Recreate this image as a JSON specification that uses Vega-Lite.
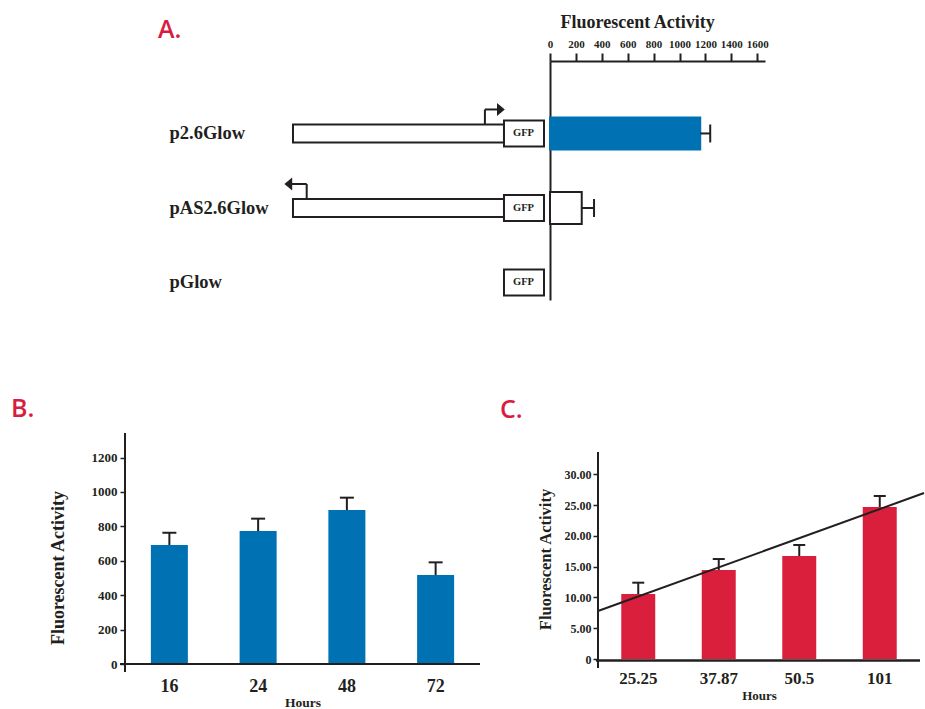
{
  "$schema": "https://vega.github.io/schema/vega-lite/v6.json",
  "background": "white",
  "autosize": {"type": "pad"},
  "padding": {"left": 11, "top": 13, "right": 0, "bottom": 0},
  "bounds": "flush",
  "spacing": 372,
  "config": {
    "view": {"stroke": null},
    "font": "Liberation Serif",
    "axis": {
      "domainColor": "#231f20", "tickColor": "#231f20", "labelColor": "#231f20", "titleColor": "#231f20",
      "labelFont": "Liberation Serif", "titleFont": "Liberation Serif",
      "labelFontWeight": "bold", "titleFontWeight": "bold",
      "grid": false, "domainWidth": 2, "tickWidth": 1.5
    },
    "title": {"font": "Open Sans", "fontWeight": 600, "fontSize": 25, "color": "#d91c3f", "anchor": "start", "frame": "group"}
  },
  "datasets": {
    "constructs": [
      {"construct": "p2.6Glow", "insert_start": 0, "insert_end": 2600, "gfp_start": 2600, "gfp_end": 3093, "promoter": 2365, "arrow_head": 2562, "direction": "forward"},
      {"construct": "pAS2.6Glow", "insert_start": 0, "insert_end": 2600, "gfp_start": 2600, "gfp_end": 3093, "promoter": 169, "arrow_head": -58, "direction": "reverse"},
      {"construct": "pGlow", "gfp_start": 2600, "gfp_end": 3093}
    ],
    "activity_a": [
      {"construct": "p2.6Glow", "activity": 1160, "upper": 1237},
      {"construct": "pAS2.6Glow", "activity": 245, "upper": 340}
    ],
    "time_course": [
      {"hours": 16, "activity": 692, "upper": 763},
      {"hours": 24, "activity": 773, "upper": 845},
      {"hours": 48, "activity": 895, "upper": 967},
      {"hours": 72, "activity": 517, "upper": 591}
    ],
    "dose": [
      {"hours": "25.25", "activity": 10.55, "upper": 12.39},
      {"hours": "37.87", "activity": 14.45, "upper": 16.23},
      {"hours": "50.5", "activity": 16.72, "upper": 18.51},
      {"hours": "101", "activity": 24.68, "upper": 26.46}
    ],
    "trend": [
      {"bar_index": -0.5, "activity": 7.79},
      {"bar_index": 3.55, "activity": 26.94}
    ]
  },
  "vconcat": [
    {
      "hconcat": [
        {
          "width": 425,
          "height": 239,
          "title": {"text": "A.", "dx": 33, "offset": 18},
          "data": {"name": "constructs"},
          "encoding": {
            "y": {
              "field": "construct", "type": "nominal", "sort": null,
              "scale": {"domain": ["p2.6Glow", "pAS2.6Glow", "pGlow"], "paddingInner": 0.5705, "paddingOuter": 0.389, "align": 0.974},
              "axis": {"domain": false, "ticks": false, "tickSize": 0, "labelAlign": "left", "labelBaseline": "middle", "labelPadding": -44, "labelFontSize": 18.5, "title": null}
            }
          },
          "layer": [
            {
              "mark": {"type": "bar", "fill": "white", "stroke": "#231f20", "strokeWidth": 2, "height": {"band": 0.5625}},
              "encoding": {
                "x": {"field": "insert_start", "type": "quantitative", "scale": {"domain": [-2070, 3167], "nice": false, "zero": false}, "axis": null},
                "x2": {"field": "insert_end"}
              }
            },
            {
              "mark": {"type": "bar", "fill": "white", "stroke": "#231f20", "strokeWidth": 2, "height": {"band": 0.8125}},
              "encoding": {
                "x": {"field": "gfp_start", "type": "quantitative"},
                "x2": {"field": "gfp_end"}
              }
            },
            {
              "mark": {"type": "text", "text": "GFP", "font": "Liberation Serif", "fontWeight": "bold", "fontSize": 10.5, "align": "left", "baseline": "middle", "dx": 9, "color": "#231f20"},
              "encoding": {"x": {"field": "gfp_start", "type": "quantitative"}}
            },
            {
              "mark": {"type": "rule", "strokeWidth": 2, "color": "#231f20"},
              "encoding": {
                "x": {"field": "promoter", "type": "quantitative"},
                "y": {"field": "construct", "type": "nominal", "bandPosition": 0.22},
                "y2": {"field": "construct", "bandPosition": -0.25}
              }
            },
            {
              "mark": {"type": "rule", "strokeWidth": 2, "color": "#231f20"},
              "encoding": {
                "x": {"field": "promoter", "type": "quantitative"},
                "x2": {"field": "arrow_head"},
                "y": {"field": "construct", "type": "nominal", "bandPosition": -0.25}
              }
            },
            {
              "mark": {"type": "point", "filled": true, "size": 169, "opacity": 1, "color": "#231f20"},
              "encoding": {
                "x": {"field": "arrow_head", "type": "quantitative"},
                "y": {"field": "construct", "type": "nominal", "bandPosition": -0.25},
                "shape": {"field": "direction", "type": "nominal", "scale": {"domain": ["forward", "reverse"], "range": ["M-0.6,-1L0.6,0L-0.6,1Z", "M0.6,-1L-0.6,0L0.6,1Z"]}, "legend": null}
              }
            }
          ]
        },
        {
          "width": 215,
          "height": 239,
          "data": {"name": "activity_a"},
          "encoding": {
            "y": {
              "field": "construct", "type": "nominal", "sort": null,
              "scale": {"domain": ["p2.6Glow", "pAS2.6Glow", "pGlow"], "paddingInner": 0.5705, "paddingOuter": 0.389, "align": 0.974},
              "axis": {"labels": false, "ticks": false, "title": null, "domain": true}
            }
          },
          "layer": [
            {
              "mark": {"type": "bar", "strokeWidth": 2},
              "encoding": {
                "x": {
                  "field": "activity", "type": "quantitative",
                  "scale": {"domain": [0, 1660], "nice": false},
                  "axis": {"orient": "top", "values": [0, 200, 400, 600, 800, 1000, 1200, 1400, 1600], "tickCount": 50, "format": "d", "tickSize": 8, "tickWidth": 2, "labelFontSize": 11, "labelPadding": 4, "labelFlush": false, "labelOverlap": false, "title": "Fluorescent Activity", "titleFontSize": 18, "titlePadding": 7, "titleX": 10, "titleAlign": "left"}
                },
                "fill": {"field": "construct", "type": "nominal", "scale": {"domain": ["p2.6Glow", "pAS2.6Glow"], "range": ["#0071b3", "#ffffff"]}, "legend": null},
                "stroke": {"field": "construct", "type": "nominal", "scale": {"domain": ["p2.6Glow", "pAS2.6Glow"], "range": ["#0071b3", "#231f20"]}, "legend": null}
              }
            },
            {
              "mark": {"type": "rule", "strokeWidth": 2, "color": "#231f20"},
              "encoding": {
                "x": {"field": "activity", "type": "quantitative"},
                "x2": {"field": "upper"}
              }
            },
            {
              "mark": {"type": "tick", "orient": "vertical", "size": 18, "thickness": 2, "color": "#231f20", "opacity": 1},
              "encoding": {"x": {"field": "upper", "type": "quantitative"}}
            }
          ]
        }
      ],
      "spacing": 0,
      "bounds": "flush"
    },
    {
      "hconcat": [
        {
          "width": 355,
          "height": 231,
          "title": {"text": "B.", "dx": -114, "offset": 10},
          "data": {"name": "time_course"},
          "layer": [
            {
              "encoding": {
                "x": {
                  "field": "hours", "type": "ordinal", "sort": null,
                  "scale": {"paddingInner": 0.583, "paddingOuter": 0.2915},
                  "axis": {"title": "Hours", "domain": false, "labelAngle": 0, "ticks": false, "tickSize": 0, "labelFontSize": 18, "labelPadding": 13, "titleFontSize": 13.5, "titlePadding": 0}
                }
              },
              "layer": [
                {
                  "mark": {"type": "bar", "color": "#0071b3"},
                  "encoding": {
                    "y": {
                      "field": "activity", "type": "quantitative",
                      "scale": {"domain": [0, 1343], "nice": false},
                      "axis": {"values": [0, 200, 400, 600, 800, 1000, 1200], "tickCount": 50, "format": "d", "labelOverlap": false, "domain": false, "tickSize": 5, "labelFontSize": 13, "labelPadding": 3, "title": "Fluorescent Activity", "titleFontSize": 18, "titlePadding": 24, "titleY": 134.5}
                    }
                  }
                },
                {
                  "mark": {"type": "rule", "strokeWidth": 2, "color": "#231f20"},
                  "encoding": {
                    "y": {"field": "activity", "type": "quantitative"},
                    "y2": {"field": "upper"}
                  }
                },
                {
                  "mark": {"type": "tick", "size": 14, "thickness": 2, "color": "#231f20", "opacity": 1},
                  "encoding": {"y": {"field": "upper", "type": "quantitative"}}
                }
              ]
            },
            {
              "layer": [
                {
                  "mark": {"type": "rule", "color": "#231f20", "strokeWidth": 2},
                  "encoding": {
                    "x": {"datum": -0.5, "type": "quantitative", "scale": {"domain": [-0.5, 3.5], "nice": false, "zero": false}, "axis": null},
                    "y": {"datum": -46, "type": "quantitative"},
                    "y2": {"datum": 1343}
                  }
                },
                {
                  "mark": {"type": "rule", "color": "#231f20", "strokeWidth": 2},
                  "encoding": {
                    "x": {"datum": -0.556, "type": "quantitative"},
                    "x2": {"datum": 3.5},
                    "y": {"datum": 0, "type": "quantitative"}
                  }
                }
              ]
            }
          ],
          "resolve": {"scale": {"x": "independent"}, "axis": {"x": "independent"}}
        },
        {
          "width": 322,
          "height": 226,
          "title": {"text": "C.", "dx": -98, "offset": 10},
          "layer": [
            {
              "data": {"name": "dose"},
              "encoding": {
                "x": {
                  "field": "hours", "type": "ordinal", "sort": null,
                  "scale": {"paddingInner": 0.578, "paddingOuter": 0.289},
                  "axis": {"title": "Hours", "domain": false, "labelAngle": 0, "ticks": false, "tickSize": 0, "labelFontSize": 17, "labelPadding": 11, "titleFontSize": 13, "titlePadding": 3}
                }
              },
              "layer": [
                {
                  "mark": {"type": "bar", "color": "#da1f3d"},
                  "encoding": {
                    "y": {
                      "field": "activity", "type": "quantitative",
                      "scale": {"domain": [0, 36.69], "nice": false},
                      "axis": {"values": [0, 5, 10, 15, 20, 25, 30], "tickCount": 50, "labelOverlap": false, "labelExpr": "datum.value == 0 ? '0' : format(datum.value, '.2f')", "domain": false, "tickSize": 5, "labelFontSize": 12, "labelPadding": 2, "title": "Fluorescent Activity", "titleFontSize": 16.5, "titlePadding": 10.5, "titleY": 126}
                    }
                  }
                },
                {
                  "mark": {"type": "rule", "strokeWidth": 2, "color": "#231f20"},
                  "encoding": {
                    "y": {"field": "activity", "type": "quantitative"},
                    "y2": {"field": "upper"}
                  }
                },
                {
                  "mark": {"type": "tick", "size": 12, "thickness": 2, "color": "#231f20", "opacity": 1},
                  "encoding": {"y": {"field": "upper", "type": "quantitative"}}
                }
              ]
            },
            {
              "data": {"name": "trend"},
              "encoding": {
                "x": {"field": "bar_index", "type": "quantitative", "scale": {"domain": [-0.5, 3.5], "nice": false, "zero": false}, "axis": null}
              },
              "layer": [
                {
                  "mark": {"type": "line", "color": "#231f20", "strokeWidth": 2},
                  "encoding": {"y": {"field": "activity", "type": "quantitative"}}
                },
                {
                  "mark": {"type": "rule", "color": "#231f20", "strokeWidth": 2},
                  "encoding": {
                    "x": {"datum": -0.5, "type": "quantitative"},
                    "y": {"datum": -1.46, "type": "quantitative"},
                    "y2": {"datum": 33.6}
                  }
                },
                {
                  "mark": {"type": "rule", "color": "#231f20", "strokeWidth": 2},
                  "encoding": {
                    "x": {"datum": -0.525, "type": "quantitative"},
                    "x2": {"datum": 3.5},
                    "y": {"datum": -0.25, "type": "quantitative"}
                  }
                }
              ]
            }
          ],
          "resolve": {"scale": {"x": "independent"}, "axis": {"x": "independent"}}
        }
      ],
      "spacing": 118,
      "bounds": "flush"
    }
  ]
}
